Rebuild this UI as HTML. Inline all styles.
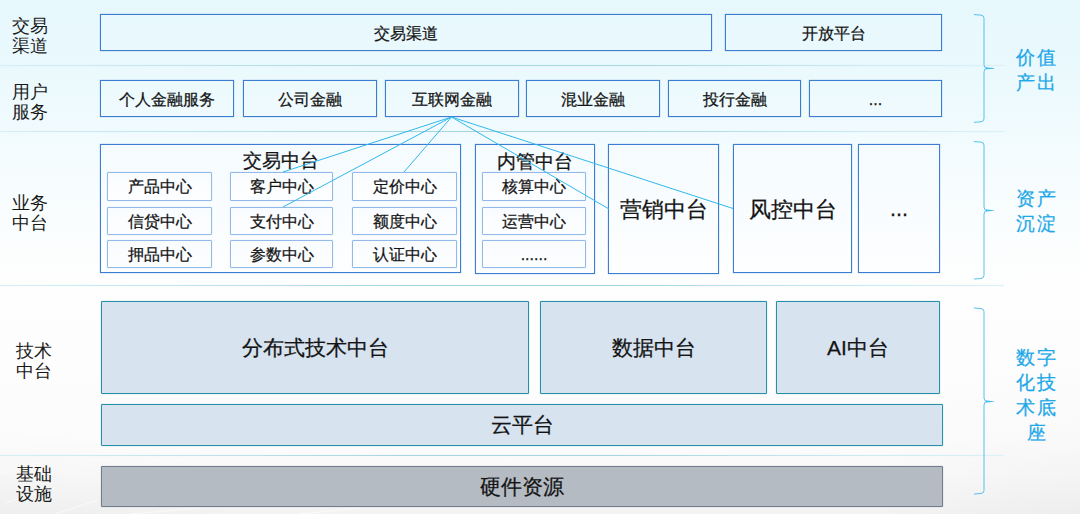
<!DOCTYPE html><html><head><meta charset="utf-8"><style>
*{margin:0;padding:0;box-sizing:border-box}
html,body{width:1080px;height:514px;overflow:hidden}
body{position:relative;font-family:"Liberation Sans",sans-serif;color:#141414;-webkit-text-stroke:0.25px #141414;
background:radial-gradient(ellipse 260px 90px at 0% 100%,rgba(0,0,0,.02),rgba(0,0,0,0)),radial-gradient(ellipse 220px 160px at 100% 100%,rgba(0,0,0,.025),rgba(0,0,0,0)),linear-gradient(180deg,#e7f8fd 0px,#eaf9fd 65px,#f1fbfe 130px,#f9fdfe 210px,#fefefe 285px,#fcfcfc 440px,#f9f9f9 475px,#f3f3f3 514px)}
.sep{position:absolute;left:0;width:1004px;height:1px;background:linear-gradient(90deg,#d6f0f6 0px,#c2e4ec 185px,#a8d6e0 400px,#a8d6e0 620px,#cbeaf2 855px,#dbf2f8 1004px);box-shadow:0 0 1px rgba(200,232,240,.8)}
.ll{position:absolute;font-size:18px;line-height:20px;color:#1a1a1a;-webkit-text-stroke:0px}
.rl{position:absolute;left:1015px;width:44px;text-align:center;font-size:19px;line-height:25px;color:#1ea8e8;-webkit-text-stroke:0.25px #1ea8e8;letter-spacing:2px}
div.b1,div.b3,div.ib,div.b4,div.b5{position:absolute;display:flex;align-items:center;justify-content:center}
.b1{border:1px solid #3b7dd0;box-shadow:0 0 1px rgba(59,125,208,.7);font-size:16px;font-weight:500;background:transparent}
.b3{border:1px solid #3b7dd0;box-shadow:0 0 1px rgba(59,125,208,.7);background:linear-gradient(180deg,#f5fbfe,#fdfeff)}
.b3 .ttl{position:absolute;top:5px;left:0;right:0;text-align:center;font-size:19px;line-height:22px;font-weight:500}
.big{font-size:21.5px;font-weight:500}
.b1 span{position:relative;top:2px}
.ib span{position:relative;top:1px}
.ib{font-weight:500;border:1px solid #92b9e9;box-shadow:0 0 1px rgba(146,185,233,.8);border-radius:1px;font-size:16px;background:linear-gradient(180deg,#f9fcff,#fdfeff)}
.b4{border:1px solid #2690a8;box-shadow:0 0 1px rgba(38,144,168,.7);border-radius:1px;background:#d7e3ef;font-size:21px;font-weight:500}
.b5{border:1px solid #717d8d;box-shadow:0 0 1px rgba(113,125,141,.7);border-radius:1px;background:#b4bbc3;font-size:21px;font-weight:500}
.ov{position:absolute;left:0;top:0}
</style></head><body>
<svg class="ov" width="1080" height="514"><line x1="5" y1="503" x2="55" y2="488" stroke="#ffffff" stroke-opacity=".6" stroke-width="1"/><line x1="55" y1="514" x2="98" y2="500" stroke="#ffffff" stroke-opacity=".6" stroke-width="1"/><line x1="0" y1="474" x2="40" y2="462" stroke="#ffffff" stroke-opacity=".6" stroke-width="1"/><line x1="130" y1="514" x2="200" y2="508" stroke="#ffffff" stroke-opacity=".6" stroke-width="1"/><line x1="300" y1="514" x2="360" y2="508" stroke="#ffffff" stroke-opacity=".6" stroke-width="1"/></svg>
<div class="sep" style="top:65px"></div>
<div class="sep" style="top:131px"></div>
<div class="sep" style="top:285px"></div>
<div class="sep" style="top:455px"></div>
<div class="ll" style="left:12px;top:16px">交易<br>渠道</div>
<div class="ll" style="left:12px;top:82px">用户<br>服务</div>
<div class="ll" style="left:12px;top:193px">业务<br>中台</div>
<div class="ll" style="left:16px;top:341px">技术<br>中台</div>
<div class="ll" style="left:16px;top:464px">基础<br>设施</div>
<div class="b1" style="left:100px;top:14px;width:612px;height:37px;"><span>交易渠道</span></div>
<div class="b1" style="left:725px;top:14px;width:217px;height:37px;"><span>开放平台</span></div>
<div class="b1" style="left:100px;top:80px;width:134px;height:37px;"><span>个人金融服务</span></div>
<div class="b1" style="left:243px;top:80px;width:134px;height:37px;"><span>公司金融</span></div>
<div class="b1" style="left:385px;top:80px;width:134px;height:37px;"><span>互联网金融</span></div>
<div class="b1" style="left:526px;top:80px;width:134px;height:37px;"><span>混业金融</span></div>
<div class="b1" style="left:668px;top:80px;width:133px;height:37px;"><span>投行金融</span></div>
<div class="b1" style="left:809px;top:80px;width:133px;height:37px;"><span style="top:1px">...</span></div>
<div class="b3" style="left:100px;top:144px;width:361px;height:129px;"><span class="ttl">交易中台</span></div>
<div class="ib" style="left:107px;top:172px;width:105px;height:29px;"><span>产品中心</span></div>
<div class="ib" style="left:230px;top:172px;width:103px;height:29px;"><span>客户中心</span></div>
<div class="ib" style="left:352px;top:172px;width:105px;height:29px;"><span>定价中心</span></div>
<div class="ib" style="left:107px;top:207px;width:105px;height:28px;"><span>信贷中心</span></div>
<div class="ib" style="left:230px;top:207px;width:103px;height:28px;"><span>支付中心</span></div>
<div class="ib" style="left:352px;top:207px;width:105px;height:28px;"><span>额度中心</span></div>
<div class="ib" style="left:107px;top:240px;width:105px;height:28px;"><span>押品中心</span></div>
<div class="ib" style="left:230px;top:240px;width:103px;height:28px;"><span>参数中心</span></div>
<div class="ib" style="left:352px;top:240px;width:105px;height:28px;"><span>认证中心</span></div>
<div class="b3" style="left:475px;top:144px;width:120px;height:130px;"><span class="ttl" style="top:6px">内管中台</span></div>
<div class="ib" style="left:482px;top:172px;width:104px;height:29px;"><span>核算中心</span></div>
<div class="ib" style="left:482px;top:207px;width:104px;height:28px;"><span>运营中心</span></div>
<div class="ib" style="left:482px;top:240px;width:104px;height:28px;"><span>......</span></div>
<div class="b3 big" style="left:608px;top:144px;width:111px;height:130px;">营销中台</div>
<div class="b3 big" style="left:733px;top:144px;width:119px;height:129px;"><span style="position:relative;top:1px">风控中台</span></div>
<div class="b3 big" style="left:858px;top:144px;width:82px;height:129px;"><span style="position:relative;top:1px">...</span></div>
<div class="b4" style="left:101px;top:301px;width:428px;height:93px;">分布式技术中台</div>
<div class="b4" style="left:540px;top:301px;width:227px;height:93px;">数据中台</div>
<div class="b4" style="left:776px;top:301px;width:164px;height:93px;">AI中台</div>
<div class="b4" style="left:101px;top:404px;width:842px;height:42px;">云平台</div>
<div class="b5" style="left:101px;top:466px;width:842px;height:41px;">硬件资源</div>
<svg class="ov" width="1080" height="514" viewBox="0 0 1080 514"><line x1="451.5" y1="117" x2="283" y2="172" stroke="#2fb8ee" stroke-width="1"/><line x1="451.5" y1="117" x2="283" y2="207" stroke="#2fb8ee" stroke-width="1"/><line x1="451.5" y1="117" x2="404" y2="172" stroke="#2fb8ee" stroke-width="1"/><line x1="451.5" y1="117" x2="609" y2="209" stroke="#2fb8ee" stroke-width="1"/><line x1="451.5" y1="117" x2="733" y2="208.5" stroke="#2fb8ee" stroke-width="1"/><path d="M974 14.6 L981 15.1 Q984 15.6 984 18.1 L984 64.8 Q984 68.3 987.5 68.3 Q984 68.3 984 71.8 L984 118.8 Q984 121.3 981 121.8 L974 122.3" fill="none" stroke="#52c2ef" stroke-width="1"/><path d="M986 67.39999999999999 L994 67.95 L994 68.64999999999999 L986 69.2 Z" fill="#3bb9ee"/><path d="M974 141.6 L981 142.1 Q984 142.6 984 145.1 L984 207.0 Q984 210.5 987.5 210.5 Q984 210.5 984 214.0 L984 275.5 Q984 278 981 278.5 L974 279" fill="none" stroke="#52c2ef" stroke-width="1"/><path d="M986 209.6 L994 210.15 L994 210.85 L986 211.4 Z" fill="#3bb9ee"/><path d="M974 308 L981 308.5 Q984 309 984 311.5 L984 398.0 Q984 401.5 987.5 401.5 Q984 401.5 984 405.0 L984 490.5 Q984 493 981 493.5 L974 494" fill="none" stroke="#52c2ef" stroke-width="1"/><path d="M986 400.6 L994 401.15 L994 401.85 L986 402.4 Z" fill="#3bb9ee"/></svg>
<div class="rl" style="top:45px">价值<br>产出</div>
<div class="rl" style="top:186px">资产<br>沉淀</div>
<div class="rl" style="top:345px">数字<br>化技<br>术底<br>座</div>
</body></html>
